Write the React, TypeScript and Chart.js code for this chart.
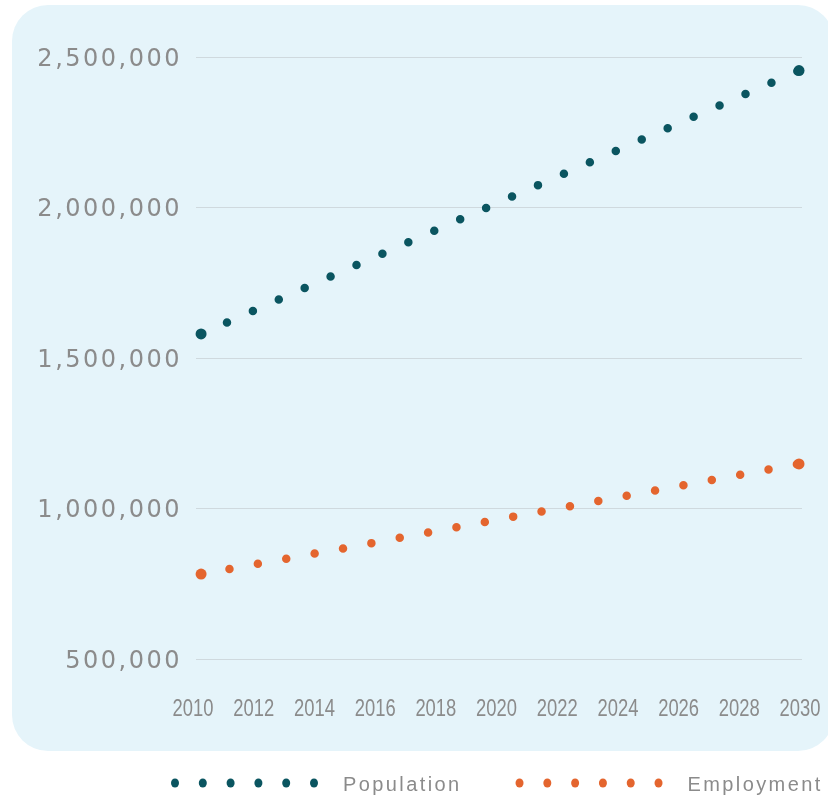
import React, { useEffect, useRef } from 'react';
import { Chart, registerables } from 'chart.js';

Chart.register(...registerables);

// ---- data ----
const years = [2010, 2015, 2020, 2025, 2030];
const population = [1580000, 1800000, 2019000, 2237000, 2455000];
const employment = [782000, 872000, 965000, 1056000, 1148000];
const xTickLabels = [2010, 2012, 2014, 2016, 2018, 2020, 2022, 2024, 2026, 2028, 2030];
const yTickValues = [500000, 1000000, 1500000, 2000000, 2500000];
const seriesNames = ['Population', 'Employment'];
const seriesColors = ['#0a5560', '#e4652e'];
const seriesDash = [28.33, 28.85];

const GREY = '#8b8b8b';

const customPlugin = {
  id: 'customDecor',
  afterDraw(chart: any) {
    const ctx = chart.ctx as CanvasRenderingContext2D;
    const ys = chart.scales.y;
    const xs = chart.scales.x;
    ctx.save();
    // y-axis labels with letter spacing
    ctx.font = "24px 'DejaVu Sans'";
    ctx.fillStyle = GREY;
    ctx.textAlign = 'right';
    ctx.textBaseline = 'alphabetic';
    (ctx as any).letterSpacing = '2.5px';
    ys.ticks.forEach((t: any) => {
      const py = ys.getPixelForValue(t.value);
      ctx.fillText(Number(t.value).toLocaleString('en-US'), 182, py + 8.5);
    });

    // x-axis labels, condensed
    (ctx as any).letterSpacing = '0px';
    ctx.font = "23px 'Liberation Sans'";
    ctx.textAlign = 'center';
    const by = chart.chartArea.bottom + 57;
    xs.ticks.forEach((t: any, i: number) => {
      const px = xs.getPixelForValue(t.value) - 8 + i * 0.9;
      ctx.save();
      ctx.translate(px, by);
      ctx.scale(0.8, 1);
      ctx.fillText(String(t.value), 0, 0);
      ctx.restore();
    });

    // legend
    ctx.font = "20px 'Liberation Sans'";
    (ctx as any).letterSpacing = '2.4px';
    ctx.textAlign = 'left';
    const ly = 783;
    let x = 175;
    chart.data.datasets.forEach((ds: any) => {
      ctx.fillStyle = ds.borderColor;
      for (let i = 0; i < 6; i++) {
        ctx.beginPath();
        ctx.ellipse(x + i * 27.8, ly, 4, 4.5, 0, 0, Math.PI * 2);
        ctx.fill();
      }
      const tx = x + 5 * 27.8 + 29;
      ctx.fillStyle = GREY;
      ctx.fillText(ds.label, tx, ly + 8);
      const w = ctx.measureText(ds.label).width;
      x = tx + w + 58;
    });
    ctx.restore();
  },
};

export default function App() {
  const ref = useRef<HTMLCanvasElement | null>(null);

  useEffect(() => {
    document.body.style.margin = '0';
    document.body.style.overflow = 'hidden';
    const canvas = ref.current;
    if (!canvas) return;
    const seriesValues = [population, employment];
    const chart = new Chart(canvas, {
      type: 'line',
      data: {
        datasets: seriesNames.map((name, k) => ({
          label: name,
          data: years.map((yr, i) => ({ x: yr, y: seriesValues[k][i] })),
          borderColor: seriesColors[k],
          backgroundColor: seriesColors[k],
          borderWidth: 8.5,
          borderDash: [0, seriesDash[k]],
          borderCapStyle: 'round',
          pointRadius: years.map((_, i) => (i === 0 || i === years.length - 1 ? 5.5 : 0)),
          pointHoverRadius: 0,
          pointBorderWidth: 0,
          fill: false,
          tension: 0,
          clip: false,
        })),
      },
      options: {
        animation: false,
        responsive: false,
        events: [],
        layout: { padding: { top: 57, right: 26, left: 0, bottom: 0 } },
        plugins: { legend: { display: false }, tooltip: { enabled: false } },
        scales: {
          x: {
            type: 'linear',
            min: 2009.83,
            max: 2030.1,
            grid: { display: false, drawTicks: false },
            border: { display: false },
            afterBuildTicks: (scale: any) => {
              scale.ticks = xTickLabels.map((v) => ({ value: v }));
            },
            afterFit: (scale: any) => {
              scale.height = 138;
              scale.paddingLeft = 0;
              scale.paddingRight = 0;
            },
            ticks: { display: false },
          },
          y: {
            type: 'linear',
            min: 500000,
            max: 2500000,
            grid: { color: '#cfd9de', lineWidth: 1, drawTicks: false },
            border: { display: false },
            afterBuildTicks: (scale: any) => {
              scale.ticks = yTickValues.map((v) => ({ value: v }));
            },
            afterFit: (scale: any) => {
              scale.width = 196;
              scale.paddingTop = 0;
              scale.paddingBottom = 0;
            },
            ticks: { display: false },
          },
        },
      },
      plugins: [customPlugin],
    } as any);
    return () => chart.destroy();
  }, []);

  return (
    <div style={{ position: 'relative', width: 828, height: 797, overflow: 'hidden' }}>
      <div
        style={{
          position: 'absolute',
          left: 12,
          top: 5,
          width: 822,
          height: 746,
          borderRadius: 36,
          background: '#e5f4fa',
        }}
      />
      <canvas
        ref={ref}
        width={828}
        height={797}
        style={{ position: 'absolute', left: 0, top: 0, width: 828, height: 797 }}
      />
    </div>
  );
}
